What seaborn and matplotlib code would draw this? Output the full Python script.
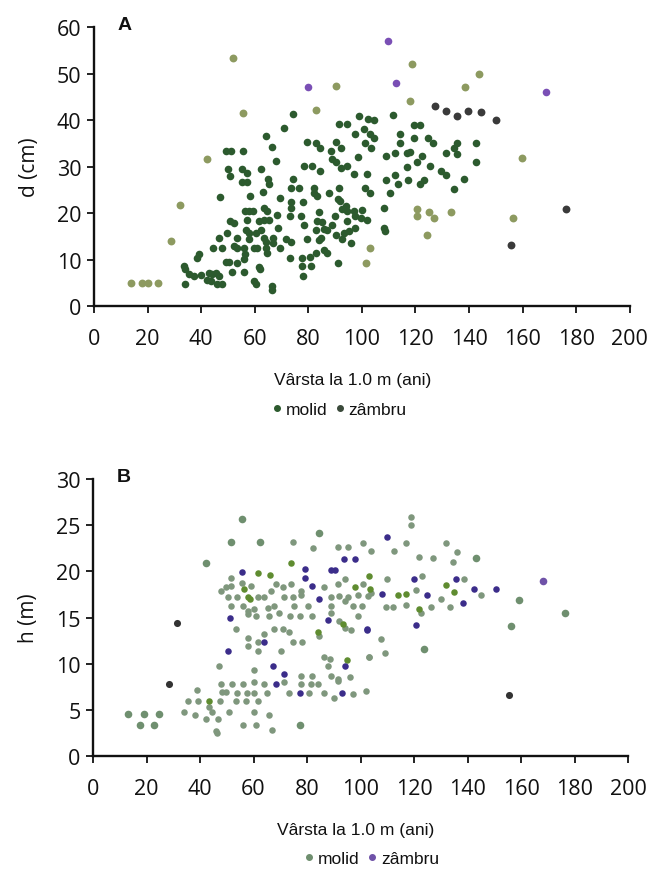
import matplotlib
matplotlib.use("Agg")
import matplotlib.pyplot as plt
from matplotlib.lines import Line2D
import seaborn as sns

# ---- panel A: d (cm) vs age at 1.0 m ----
a_molid = [
    (104.4, 40.1), (100.7, 38.1), (103.2, 37.0), (104.7, 36.1), (101.3, 35.1), (103.5, 34.0),
    (111.6, 41.2), (119.3, 38.9), (121.6, 38.9), (114.4, 37.0), (119.3, 36.1), (114.4, 35.1),
    (124.7, 36.1), (126.6, 35.0), (135.6, 35.0), (142.7, 35.0), (134.3, 33.9), (131.5, 32.9),
    (135.5, 32.8), (118.1, 33.2), (116.9, 33.0), (112.5, 33.0), (109.1, 32.2), (122.5, 32.2),
    (120.6, 31.0), (116.9, 30.0), (125.3, 30.2), (142.7, 30.9), (101.9, 28.4), (112.5, 28.2),
    (129.7, 29.0), (131.5, 28.2), (109.1, 27.2), (113.5, 26.3), (117.2, 27.2), (121.8, 26.2),
    (123.1, 27.2), (138.2, 27.3), (101.3, 25.3), (103.2, 24.4), (110.4, 24.4), (134.3, 25.1),
    (100.1, 20.7), (102.0, 18.5), (108.1, 21.2), (108.1, 16.9), (108.8, 16.2),
    (74.4, 41.3), (98.9, 40.9), (91.4, 39.2), (94.5, 39.2), (102.2, 40.2), (71.1, 38.2),
    (64.1, 36.6), (97.6, 37.0), (79.6, 35.3), (83.0, 35.1), (90.2, 35.3), (66.3, 34.3),
    (84.3, 34.1), (92.3, 34.1), (49.1, 33.3), (51.0, 33.3), (55.6, 33.3), (88.3, 33.4),
    (98.6, 32.1), (68.0, 31.3), (88.9, 31.6), (90.2, 30.9), (78.4, 30.2), (81.2, 30.2),
    (84.2, 29.1), (92.3, 29.8), (94.5, 30.2), (97.0, 28.5), (50.1, 29.5), (55.3, 29.5),
    (57.0, 28.6), (62.4, 29.5), (50.7, 27.9), (55.3, 26.7), (57.0, 26.6), (64.9, 27.3),
    (65.3, 26.2), (74.4, 27.4), (73.4, 25.5), (76.5, 25.5), (82.1, 25.5), (91.4, 25.5),
    (87.7, 24.4), (63.1, 24.6), (58.2, 23.6), (47.0, 23.5), (69.4, 23.3), (82.3, 24.3),
    (83.3, 23.7), (91.0, 23.0), (92.0, 22.6), (93.9, 21.6), (73.4, 22.4), (78.1, 22.4),
    (56.3, 20.5), (57.8, 20.5), (59.5, 20.5), (63.4, 21.2), (64.4, 20.5), (73.4, 21.2),
    (84.0, 20.3), (92.7, 20.8), (94.5, 20.5), (97.0, 20.5), (68.2, 19.5), (73.1, 19.4),
    (77.1, 19.4), (89.9, 19.3), (97.6, 19.3), (99.5, 19.0), (50.7, 18.3), (52.2, 17.8),
    (57.0, 18.5), (61.6, 18.3), (63.4, 18.5), (65.3, 18.5), (78.4, 17.4), (83.3, 18.3),
    (85.2, 18.0), (88.9, 17.4), (94.3, 18.3), (49.8, 15.8), (56.6, 16.4), (57.8, 15.8),
    (60.3, 15.8), (62.2, 16.4), (68.8, 16.7), (82.7, 16.4), (85.8, 16.5), (87.1, 16.4),
    (93.3, 15.8), (95.1, 16.2), (97.6, 16.9), (46.6, 14.7), (53.5, 14.7), (57.8, 14.5),
    (63.4, 14.7), (64.1, 13.8), (66.9, 14.7), (71.5, 14.4), (73.4, 13.8), (79.6, 14.5),
    (84.6, 14.7), (84.0, 14.2), (90.2, 15.2), (92.7, 14.4), (95.8, 13.5), (44.5, 12.6),
    (47.9, 12.6), (52.2, 12.9), (53.5, 12.4), (56.0, 12.4), (59.7, 12.6), (60.9, 12.6),
    (64.1, 12.4), (64.7, 11.5), (66.9, 13.5), (69.6, 12.4), (85.8, 12.1), (39.2, 11.1),
    (38.3, 10.4), (56.3, 11.1), (56.0, 10.2), (73.1, 10.4), (77.5, 10.4), (80.8, 10.6),
    (82.9, 11.5), (87.1, 11.4), (49.1, 9.5), (50.4, 9.5), (53.5, 9.3), (56.0, 7.3),
    (61.6, 8.5), (61.8, 7.9), (77.7, 8.6), (81.1, 8.6), (91.2, 9.3), (33.6, 8.6),
    (34.0, 7.9), (35.5, 6.8), (37.3, 6.5), (39.8, 6.6), (42.9, 7.2), (44.2, 6.8),
    (42.3, 5.7), (43.5, 5.4), (45.4, 7.2), (46.6, 6.5), (46.0, 4.7), (47.6, 4.7),
    (51.6, 7.3), (59.7, 5.4), (60.3, 4.7), (66.5, 4.3), (66.5, 3.4), (33.8, 4.7), (78.0, 6.5),
]
a_molid_other = [
    (14, 5), (18, 5), (20, 5), (24, 5), (28.6, 14.0), (32, 21.7), (42, 31.6), (51.9, 53.4),
    (55.5, 41.5), (90.4, 47.3), (82.7, 42.2), (102.9, 12.4), (101.7, 9.2), (118.7, 52.1),
    (143.6, 49.9), (138.4, 47.1), (118.1, 44.2), (159.7, 31.9), (120.6, 20.8), (120.6, 19.4),
    (124.9, 20.3), (126.8, 19.0), (133.4, 20.3), (124.3, 15.2), (156.3, 19.0),
]
a_zambru = [(127.4, 43.0), (131.5, 41.9), (135.5, 40.8), (139.6, 42.0), (144.5, 41.8),
            (150.2, 40.0), (176.1, 20.8), (155.8, 13.1)]
a_zambru_other = [(79.9, 47.2), (109.8, 57.1), (112.6, 48.0), (168.8, 46.0)]

# ---- panel B: h (m) vs age at 1.0 m ----
b_molid = [
    (34, 4.8), (38, 4.4), (42.1, 4.0), (46.9, 4.0), (43.4, 5.3), (44.6, 4.8), (45.9, 2.7),
    (46.5, 2.5), (50.9, 4.8), (55.9, 3.4), (60.9, 3.3), (66.9, 2.8), (60.3, 4.8), (65.9, 4.4),
    (35.6, 5.9), (39.3, 5.9), (47.5, 5.9), (53.6, 5.9), (57.1, 5.9), (61.8, 5.9),
    (39, 7.2), (48.1, 6.9), (49.6, 6.9), (54, 6.8), (57.5, 6.8), (60.3, 6.8), (65, 6.8),
    (73.4, 6.8), (80.9, 6.8), (86.5, 6.8), (90, 6.3), (97.1, 6.7),
    (47.8, 7.8), (52.1, 7.8), (55.9, 7.8), (60.3, 8.0), (64, 7.8), (71.5, 8.0), (77.8, 7.8),
    (81.5, 7.8), (84, 7.8), (91.5, 8.1), (60.3, 9.3), (77.8, 8.7), (81.8, 8.7), (89, 8.7),
    (91.5, 8.3), (95.9, 8.6), (47.1, 9.8), (87.8, 9.8), (86.5, 10.7), (88.4, 10.5),
    (103, 10.7), (57.8, 11.9), (61.5, 11.4), (70.3, 11.4), (58.1, 12.8), (61.5, 12.3),
    (64, 13.2), (74.6, 12.3), (78, 12.3), (84.6, 13.0), (94, 13.9), (96.3, 13.7),
    (53.4, 13.8), (67.8, 13.8), (70.9, 13.8), (73.4, 13.4), (61.1, 15.2), (65.9, 15.2),
    (69.4, 15.5), (73.6, 15.2), (77.4, 15.2), (81.8, 15.2), (57.8, 15.4), (88.8, 15.5),
    (92.1, 14.6), (99, 15.2), (51.5, 16.3), (55.9, 16.3), (58, 15.7), (60, 15.9),
    (65.3, 16.0), (67.5, 16.3), (75.3, 16.3), (80.3, 16.3), (89, 16.3), (94, 16.8),
    (97.1, 16.3), (100.5, 16.3), (50.3, 17.2), (54, 17.2), (61.5, 17.2), (64, 17.2),
    (71.5, 17.2), (74.6, 17.2), (77.8, 17.5), (89, 17.2), (92.1, 17.3), (95.3, 17.2),
    (99, 17.4), (102.8, 17.3), (47.8, 17.9), (49.6, 18.3), (51.5, 18.4), (59, 18.4),
    (66.5, 17.9), (68.4, 18.6), (70.9, 18.3), (74, 18.6), (77.8, 17.9), (86.5, 18.3),
    (91.5, 18.6), (100.9, 18.6), (51.5, 19.3), (55.6, 18.8), (82.1, 22.5), (91.5, 22.6),
    (95.3, 22.6), (100.9, 23.1), (74.6, 23.2), (94, 19.2),
    (118.8, 25.9), (118.8, 25.0), (116.9, 23.1), (131.9, 23.1), (135.9, 22.1), (103.8, 22.2),
    (112.5, 22.2), (121.9, 21.6), (127.2, 21.5), (134.7, 21.0), (110, 19.2), (123.1, 19.5),
    (138.7, 19.2), (103.8, 17.7), (120.6, 18.0), (145, 17.4), (109.4, 16.1), (112.3, 16.2),
    (116.9, 16.4), (122.5, 15.5), (126.2, 16.2), (133.5, 16.1), (130, 17.0), (107.8, 12.7),
    (109.2, 11.2), (103.2, 10.7), (102.2, 7.0),
]
b_molid_bright = [
    (56.5, 18.1), (58.5, 17.0), (61.5, 19.8), (66, 19.6), (74, 20.9), (84, 13.4), (93.4, 14.3),
    (95, 10.4), (97.8, 18.3), (103.4, 18.1), (103.2, 19.5), (113.8, 17.5), (116.9, 17.6),
    (121.9, 15.9), (134.9, 17.8), (131.9, 18.5), (57.8, 17.2), (43.4, 5.9),
]
b_molid_other = [
    (13, 4.5), (17.4, 3.4), (19, 4.5), (22.8, 3.4), (24.6, 4.5), (42.1, 20.9), (51.5, 23.2),
    (55.6, 25.7), (62.4, 23.2), (77.4, 3.3), (84.6, 24.2), (143.3, 21.5), (159.2, 16.9),
    (176.5, 15.5), (156.2, 14.1), (123.7, 11.6),
]
b_zambru = [
    (68.4, 7.8), (77.5, 6.8), (93, 6.8), (71.5, 8.9), (67.1, 9.8), (50.3, 11.4), (64, 12.4),
    (51.3, 14.9), (55.6, 19.9), (79.4, 20.3), (79.4, 19.3), (81.8, 18.4), (88.8, 20.2),
    (90.6, 20.2), (84.6, 17.0), (87.8, 14.7), (93.8, 21.3), (97.8, 21.3), (102.5, 13.7),
    (94, 9.8), (109.7, 23.7), (120, 19.2), (108.1, 17.6), (125, 17.5), (135.6, 19.2),
    (142.5, 18.1), (150.6, 18.1), (138.1, 16.6), (102.3, 13.8), (120.6, 14.2),
]
b_zambru_other = [(168.3, 19.0)]
b_dark = [(31.5, 14.4), (28.4, 7.8), (155.4, 6.6)]

sns.set_style("ticks")
plt.rcParams["font.family"] = ["Open Sans", "DejaVu Sans"]

fig = plt.figure(figsize=(6.55, 8.7), dpi=100)
axA = fig.add_axes([0.1435, 0.647, 0.818, 0.3207])
axB = fig.add_axes([0.142, 0.130, 0.817, 0.318])


def pts(ax, data, color, s):
    sns.scatterplot(x=[p[0] for p in data], y=[p[1] for p in data], color=color, s=s,
                    linewidth=0, ax=ax, legend=False)


pts(axA, a_molid, "#2c5a2e", 30)
pts(axA, a_molid_other, "#8d9a60", 32)
pts(axA, a_zambru, "#3a3a3a", 32)
pts(axA, a_zambru_other, "#7a4fb5", 30)

pts(axB, b_molid, "#7f977d", 22)
pts(axB, b_molid_bright, "#5f8c30", 22)
pts(axB, b_zambru, "#3b2d8a", 22)
pts(axB, b_molid_other, "#6f8f6f", 30)
pts(axB, b_zambru_other, "#6f52a8", 30)
pts(axB, b_dark, "#333333", 26)

for ax, ymax, ystep, ylab, letter in [(axA, 60, 10, "d (cm)", "A"), (axB, 30, 5, "h (m)", "B")]:
    ax.set_xlim(0, 200)
    ax.set_ylim(0, ymax)
    ax.set_xticks(range(0, 201, 20))
    ax.set_yticks(range(0, ymax + 1, ystep))
    sns.despine(ax=ax)
    for sp in ("left", "bottom"):
        ax.spines[sp].set_linewidth(1.7)
        ax.spines[sp].set_color("#111111")
    ax.tick_params(axis="both", labelsize=15.5, colors="#111111", width=1.3, length=5)
    ax.tick_params(axis="x", pad=11)
    ax.tick_params(axis="y", pad=4)
    ax.set_ylabel(ylab, fontsize=15, color="#111111")
    ax.yaxis.set_label_coords(-0.1, 0.5)
    ax.set_xlabel("Vârsta la 1.0 m (ani)", fontsize=12.5, color="#111111",
                  family=["Liberation Sans", "DejaVu Sans"])
    ax.text(0.058, 1.01, letter, transform=ax.transAxes, fontsize=14, fontweight="bold",
            ha="center", va="center", color="#111111",
            family=["Liberation Sans", "DejaVu Sans"])

axA.xaxis.set_label_coords(0.482, -0.235)
axB.xaxis.set_label_coords(0.49, -0.24)


def legend(ax, c1, c2, xc):
    h = [Line2D([], [], marker="o", ls="", color=c1, markersize=4),
         Line2D([], [], marker="o", ls="", color=c2, markersize=4)]
    ax.legend(h, ["molid", "zâmbru"], loc="center", bbox_to_anchor=(xc, -0.37), ncol=2,
              frameon=False, handletextpad=0.05, columnspacing=0.3, handlelength=0.9,
              labelcolor="#111111",
              prop={"family": ["Liberation Sans", "DejaVu Sans"], "size": 12.5})


legend(axA, "#2c5a2e", "#3a4a3a", 0.455)
legend(axB, "#6f8f6f", "#6f52a8", 0.518)

fig.savefig("out.png", dpi=100)
